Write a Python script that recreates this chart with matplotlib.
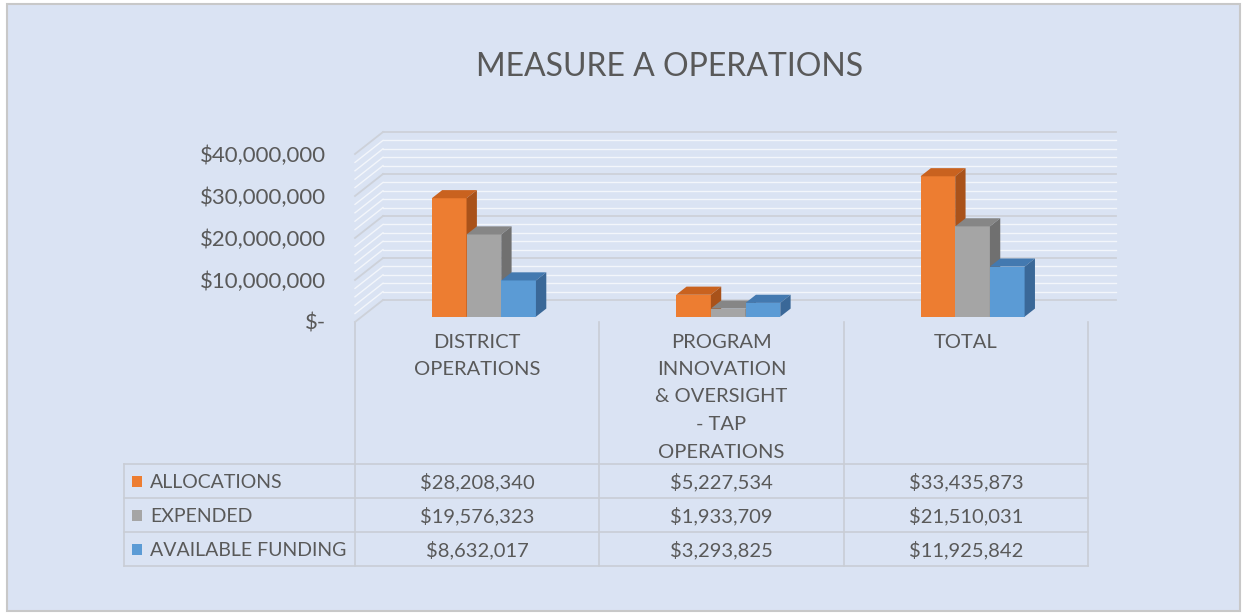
import matplotlib.pyplot as plt
import matplotlib.transforms as mtransforms
from matplotlib.patches import Polygon, Rectangle
from matplotlib.lines import Line2D

# data
categories = ["DISTRICT\nOPERATIONS",
              "PROGRAM\nINNOVATION\n& OVERSIGHT\n- TAP\nOPERATIONS",
              "TOTAL"]
series_names = ["ALLOCATIONS", "EXPENDED", "AVAILABLE FUNDING"]
allocations = [28208340, 5227534, 33435873]
expended = [19576323, 1933709, 21510031]
available = [8632017, 3293825, 11925842]
y_ticks = [0, 10000000, 20000000, 30000000, 40000000]
y_tick_labels = ["$-", "$10,000,000", "$20,000,000", "$30,000,000", "$40,000,000"]

W, H = 1244, 615
BG = '#dae3f3'
TXT = '#595959'
GRID = '#c9cdd5'
front_cols = ['#ed7d31', '#a5a5a5', '#5b9bd5']
top_cols = ['#c9621f', '#868686', '#4379b0']
side_cols = ['#a9521a', '#707070', '#3a6898']

plt.rcParams['font.family'] = ['Lato', 'DejaVu Sans']


def fx(p):
    return p / W


def fy(p):
    return 1 - p / H


fig = plt.figure(figsize=(W / 100, H / 100), dpi=100)
fig.patch.set_facecolor('white')
fig.add_artist(Rectangle((fx(7), fy(611)), fx(1240) - fx(7), fy(4) - fy(611),
                         transform=fig.transFigure, fc=BG, ec='#c8c8c8', lw=1.5, zorder=0))

ax = fig.add_axes([fx(355), fy(322), fx(1088) - fx(355), fy(100) - fy(322)])
ax.set_xlim(-0.5, 2.5)
ax.set_ylim(0, 222 / 4.2 * 1e6)
ax.patch.set_visible(False)
for s in ax.spines.values():
    s.set_visible(False)
ax.set_xticks([])
ax.set_yticks(y_ticks, y_tick_labels)
ax.tick_params(axis='y', length=0, pad=21, labelsize=16, labelcolor=TXT)

# depth vector of the 3d box, from a pixel offset through the axes transform
inv = ax.transData.inverted()
o = ax.transData.transform((0, 0))
Dx, Dy = inv.transform(o + [28, 22])
bar_w = inv.transform(o + [34.7, 0])[0]
f0, f1 = 0.24, 0.61

# back wall and side wall gridlines
for v in range(0, 40000001, 2000000):
    major = v % 10000000 == 0
    c = '#cdd1d9' if major else '#f3f6fb'
    lw = 1.3 if major else 1.0
    z = 1.5 if major else 1
    ax.plot([-0.5 + Dx, 2.5 + Dx], [v + Dy, v + Dy], color=c, lw=lw, zorder=z, clip_on=False)
    ax.plot([-0.5, -0.5 + Dx], [v, v + Dy], color=c, lw=lw, zorder=z, clip_on=False)

# 3d columns
series = [allocations, expended, available]
for i in range(len(categories)):
    for j, vals in enumerate(series):
        h = vals[i]
        x0 = i + (j - 1.5) * bar_w + f0 * Dx
        y0 = f0 * Dy
        ddx, ddy = (f1 - f0) * Dx, (f1 - f0) * Dy
        ax.bar(x0, h, width=bar_w, bottom=y0, align='edge', color=front_cols[j],
               zorder=3 + j, clip_on=False)
        top = [(x0, y0 + h), (x0 + bar_w, y0 + h), (x0 + bar_w + ddx, y0 + h + ddy),
               (x0 + ddx, y0 + h + ddy)]
        side = [(x0 + bar_w, y0), (x0 + bar_w, y0 + h), (x0 + bar_w + ddx, y0 + h + ddy),
                (x0 + bar_w + ddx, y0 + ddy)]
        ax.add_patch(Polygon(top, closed=True, fc=top_cols[j], ec='none', zorder=3 + j, clip_on=False))
        ax.add_patch(Polygon(side, closed=True, fc=side_cols[j], ec='none', zorder=3 + j, clip_on=False))

# title
fig.text(fx(670), fy(67), "MEASURE A OPERATIONS", ha='center', va='center',
         fontsize=23, color=TXT)

# data table
blend = mtransforms.blended_transform_factory(ax.transData, fig.transFigure)
x_right = fig.transFigure.inverted().transform(ax.transData.transform((2.5, 0)))[0]
for xv in [-0.5, 0.5, 1.5, 2.5]:
    ax.plot([xv, xv], [fy(322), fy(566)], transform=blend, color=GRID, lw=1.2,
            clip_on=False, zorder=1)
for yp in [464, 498, 532, 566]:
    fig.add_artist(Line2D([fx(124), x_right], [fy(yp), fy(yp)], color=GRID, lw=1.2))
fig.add_artist(Line2D([fx(124), fx(124)], [fy(464), fy(566)], color=GRID, lw=1.2))

for i, cat in enumerate(categories):
    for k, line in enumerate(cat.split("\n")):
        ax.text(i, fy(342 + k * 27.5), line, transform=blend, ha='center', va='center',
                fontsize=14.5, color=TXT, clip_on=False)

row_y = [481, 515, 549]
for j, vals in enumerate(series):
    fig.add_artist(Rectangle((fx(132), fy(row_y[j] + 6)), 10 / W, 11 / H,
                             transform=fig.transFigure, fc=front_cols[j], ec='none'))
    fig.text(fx(150), fy(row_y[j] + 1), series_names[j], ha='left', va='center',
             fontsize=14, color=TXT)
    for i, v in enumerate(vals):
        ax.text(i, fy(row_y[j] + 1), f"${v:,.0f}", transform=blend, ha='center', va='center',
                fontsize=14.5, color=TXT, clip_on=False)

fig.savefig('out.png', dpi=100)
